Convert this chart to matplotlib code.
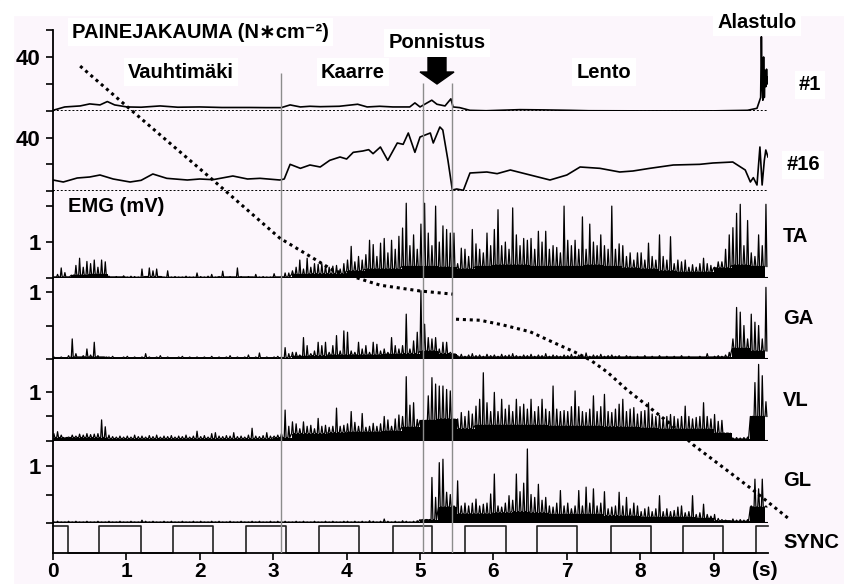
import numpy as np
import matplotlib
matplotlib.use("Agg")
import matplotlib.pyplot as plt
from matplotlib.patches import Polygon, Rectangle
from matplotlib.transforms import IdentityTransform

plt.rcParams['font.family'] = ['Liberation Sans', 'DejaVu Sans']
plt.rcParams['font.weight'] = 'bold'

W, H = 844, 584
BG = '#fcf6fc'
T_END = 9.74

# --- pressure insole data (N/cm2) ---
p1_t = [0, 0.16, 0.37, 0.5, 0.64, 0.74, 0.84, 1.01, 1.2, 1.46,
        1.7, 2.0, 2.3, 2.68, 2.9, 3.11, 3.23, 3.37, 3.5, 3.64,
        3.9, 4.15, 4.28, 4.45, 4.63, 4.86, 4.93, 5.0, 5.16, 5.23,
        5.34, 5.42, 5.45, 5.54, 5.68, 5.9, 6.36, 6.7, 7.04, 7.3,
        8.0, 9.0, 9.46, 9.59, 9.64, 9.65, 9.66, 9.67, 9.68, 9.69,
        9.70, 9.71, 9.72, 9.73, 9.74]
p1_v = [0.5, 3, 3.75, 5.25, 4.5, 7, 4.5, 3, 2.8, 3.75,
        2.8, 3, 2.6, 2.6, 2.5, 2.5, 4.5, 3, 3.5, 3.2,
        3.5, 5, 3, 3.5, 3, 3, 6, 3, 8, 5,
        3.75, 9, 3, 2.5, 0.5, 0.2, 1, 0.8, 0.5, 0.2,
        0.1, 0.1, 0.5, 2, 10, 55, 20, 8, 40, 10,
        30, 18, 31, 20, 25]

p16_t = [0, 0.14, 0.33, 0.5, 0.64, 0.82, 1.05, 1.2, 1.36, 1.55,
         1.83, 2.0, 2.18, 2.45, 2.65, 2.82, 3.09, 3.15, 3.23, 3.37,
         3.5, 3.64, 3.77, 3.91, 4.0, 4.09, 4.22, 4.3, 4.36, 4.46,
         4.56, 4.69, 4.77, 4.84, 4.93, 5.0, 5.14, 5.18, 5.27, 5.31,
         5.38, 5.44, 5.5, 5.59, 5.68, 5.91, 6.05, 6.23, 6.5, 6.77,
         7.0, 7.18, 7.45, 7.72, 7.9, 8.13, 8.45, 8.81, 8.99, 9.26,
         9.43, 9.5, 9.54, 9.59, 9.63, 9.66, 9.69, 9.71, 9.74]
p16_v = [8.25, 6.75, 9.75, 10.5, 12, 9, 6.75, 8, 12.75, 9.5,
         8.25, 9, 8.5, 11.25, 9, 9.5, 8.25, 9, 20, 17,
         19.5, 18, 23, 25.5, 24, 29, 30, 31, 28, 33,
         23, 36, 35, 43.5, 29, 40.5, 43.5, 36, 48, 45.75,
         23, 0.75, 1.5, 0.5, 13.5, 14.25, 13, 15.75, 12, 8.25,
         12, 18, 17, 14.25, 15, 17, 19.5, 20, 21, 21.75,
         15.75, 6.75, 10, 4.5, 33, 4.5, 23, 30.75, 25.5]

# --- EMG (mV): spike peaks every 0.05 s, activity floor every 0.25 s ---
EMG_DT = 0.05
ta_pk = [0.03, 0.10, 0.28, 0.15, 0.03, 0.05, 0.35, 0.55, 0.30, 0.46, 0.40, 0.50, 0.30, 0.50, 0.45, 0.05, 0.03, 0.04, 0.03, 0.06,
         0.03, 0.05, 0.04, 0.03, 0.25, 0.04, 0.28, 0.20, 0.25, 0.04, 0.03, 0.20, 0.03, 0.04, 0.03, 0.03, 0.05, 0.03, 0.03, 0.14,
         0.04, 0.03, 0.05, 0.10, 0.03, 0.04, 0.19, 0.03, 0.04, 0.03, 0.28, 0.04, 0.03, 0.04, 0.03, 0.10, 0.03, 0.04, 0.03, 0.03,
         0.12, 0.03, 0.05, 0.14, 0.14, 0.20, 0.30, 0.50, 0.25, 0.55, 0.30, 0.40, 0.38, 0.40, 0.35, 0.30, 0.33, 0.35, 0.25, 0.40,
         0.50, 0.88, 0.45, 0.60, 0.50, 0.65, 1.05, 0.93, 0.60, 0.97, 1.10, 0.70, 1.05, 0.80, 1.16, 1.39, 2.08, 0.90, 1.20, 0.80,
         1.50, 2.08, 1.25, 0.90, 2.00, 1.00, 1.45, 1.35, 1.25, 1.25, 0.40, 0.83, 0.80, 0.60, 1.35, 0.95, 0.80, 0.70, 1.25, 0.90,
         1.35, 1.90, 0.90, 1.00, 0.80, 1.95, 1.20, 0.90, 1.10, 1.05, 1.10, 0.80, 1.30, 1.00, 1.30, 0.80, 0.90, 0.85, 0.70, 2.00,
         1.05, 0.90, 1.05, 0.80, 1.70, 0.80, 1.50, 1.00, 0.90, 1.20, 0.90, 0.80, 2.00, 0.80, 0.95, 0.90, 0.60, 0.70, 0.50, 0.70,
         0.70, 0.50, 0.97, 0.60, 0.50, 1.20, 0.60, 0.50, 1.15, 0.40, 0.50, 0.45, 0.50, 0.30, 0.37, 0.30, 0.40, 0.55, 0.40, 0.35,
         0.30, 0.45, 0.45, 0.80, 1.20, 1.40, 1.80, 2.05, 0.90, 1.60, 0.70, 0.60, 1.20, 0.90, 2.05]
ta_fl = [0.03, 0.08, 0.10, 0.03, 0.02, 0.04, 0.02, 0.02, 0.02, 0.03, 0.03, 0.02, 0.03,
         0.10, 0.12, 0.12, 0.20, 0.25, 0.25, 0.32, 0.32, 0.30, 0.25, 0.32, 0.36, 0.36,
         0.32, 0.32, 0.32, 0.36, 0.32, 0.28, 0.25, 0.20, 0.16, 0.16, 0.28, 0.36, 0.32]

ga_pk = [0.03, 0.02, 0.03, 0.02, 0.05, 0.30, 0.08, 0.03, 0.05, 0.15, 0.06, 0.25, 0.05, 0.03, 0.02, 0.03, 0.04, 0.02, 0.02, 0.03,
         0.04, 0.02, 0.03, 0.02, 0.03, 0.08, 0.03, 0.02, 0.03, 0.05, 0.02, 0.03, 0.02, 0.02, 0.03, 0.04, 0.02, 0.03, 0.02, 0.03,
         0.02, 0.03, 0.02, 0.04, 0.02, 0.03, 0.02, 0.03, 0.05, 0.02, 0.03, 0.02, 0.03, 0.06, 0.02, 0.03, 0.09, 0.02, 0.03, 0.02,
         0.03, 0.04, 0.03, 0.17, 0.08, 0.10, 0.10, 0.06, 0.32, 0.20, 0.08, 0.12, 0.25, 0.20, 0.25, 0.10, 0.20, 0.35, 0.12, 0.42,
         0.40, 0.12, 0.10, 0.25, 0.15, 0.20, 0.10, 0.25, 0.22, 0.12, 0.15, 0.10, 0.32, 0.20, 0.15, 0.20, 0.67, 0.15, 0.27, 0.40,
         1.02, 0.52, 0.32, 0.30, 0.32, 0.15, 0.25, 0.25, 0.10, 0.04, 0.05, 0.07, 0.04, 0.06, 0.08, 0.05, 0.06, 0.04, 0.07, 0.05,
         0.06, 0.04, 0.07, 0.05, 0.06, 0.08, 0.05, 0.04, 0.06, 0.05, 0.07, 0.04, 0.06, 0.05, 0.08, 0.04, 0.06, 0.05, 0.04, 0.06,
         0.05, 0.07, 0.04, 0.06, 0.05, 0.09, 0.04, 0.06, 0.05, 0.07, 0.04, 0.05, 0.06, 0.04, 0.05, 0.03, 0.05, 0.04, 0.03, 0.04,
         0.03, 0.05, 0.03, 0.04, 0.03, 0.05, 0.03, 0.04, 0.03, 0.04, 0.03, 0.05, 0.03, 0.04, 0.03, 0.03, 0.04, 0.03, 0.08, 0.03,
         0.04, 0.05, 0.04, 0.06, 0.10, 0.30, 0.77, 0.70, 0.50, 0.30, 0.67, 0.55, 0.50, 0.30, 1.07]
ga_fl = [0.02, 0.03, 0.03, 0.02, 0.02, 0.02, 0.02, 0.02, 0.02, 0.02, 0.02, 0.02, 0.02,
         0.04, 0.05, 0.06, 0.06, 0.06, 0.07, 0.08, 0.12, 0.08, 0.03, 0.03, 0.03, 0.03,
         0.03, 0.03, 0.03, 0.03, 0.03, 0.03, 0.03, 0.03, 0.03, 0.03, 0.03, 0.16, 0.12]

vl_pk = [0.15, 0.19, 0.12, 0.03, 0.08, 0.12, 0.10, 0.14, 0.12, 0.15, 0.13, 0.14, 0.15, 0.43, 0.29, 0.12, 0.09, 0.08, 0.10, 0.08,
         0.10, 0.08, 0.12, 0.09, 0.10, 0.08, 0.11, 0.09, 0.12, 0.08, 0.10, 0.09, 0.11, 0.08, 0.10, 0.09, 0.12, 0.08, 0.10, 0.20,
         0.09, 0.11, 0.08, 0.15, 0.17, 0.10, 0.09, 0.11, 0.10, 0.17, 0.09, 0.10, 0.08, 0.12, 0.26, 0.10, 0.09, 0.11, 0.17, 0.10,
         0.10, 0.12, 0.15, 0.63, 0.30, 0.39, 0.35, 0.25, 0.39, 0.30, 0.32, 0.25, 0.46, 0.30, 0.32, 0.28, 0.30, 0.67, 0.30, 0.32,
         0.35, 0.60, 0.38, 0.30, 0.56, 0.28, 0.30, 0.36, 0.30, 0.35, 0.50, 0.43, 0.30, 0.45, 0.53, 0.50, 1.31, 0.73, 0.78, 0.44,
         0.35, 0.30, 0.92, 1.29, 1.16, 1.12, 1.12, 1.05, 1.02, 0.10, 0.45, 0.58, 0.50, 0.61, 0.55, 0.71, 0.85, 1.39, 0.78, 0.60,
         0.99, 0.60, 0.85, 0.65, 0.73, 0.60, 0.85, 0.70, 0.75, 0.65, 0.85, 0.60, 0.70, 0.85, 0.65, 0.60, 1.12, 0.65, 0.60, 0.62,
         0.60, 0.70, 1.02, 0.70, 0.60, 0.58, 0.65, 0.92, 0.60, 0.70, 0.95, 0.60, 0.58, 0.65, 0.75, 0.85, 0.60, 0.65, 0.68, 0.55,
         0.60, 0.62, 0.78, 0.55, 0.50, 0.52, 0.48, 0.50, 0.54, 0.50, 0.45, 0.50, 0.71, 0.50, 0.45, 0.48, 0.50, 0.78, 0.50, 0.45,
         0.54, 0.40, 0.42, 0.10, 0.07, 0.06, 0.07, 0.06, 0.07, 0.08, 0.30, 1.19, 1.56, 1.33, 0.80]
vl_fl = [0.07, 0.07, 0.07, 0.05, 0.05, 0.05, 0.05, 0.05, 0.05, 0.05, 0.05, 0.05, 0.07,
         0.15, 0.15, 0.17, 0.18, 0.18, 0.20, 0.28, 0.42, 0.45, 0.25, 0.32, 0.32, 0.32,
         0.32, 0.30, 0.30, 0.30, 0.29, 0.28, 0.26, 0.24, 0.24, 0.24, 0.16, 0.04, 0.50]

gl_pk = [0.02, 0.03, 0.02, 0.02, 0.03, 0.02, 0.03, 0.02, 0.02, 0.03, 0.02, 0.02, 0.03, 0.02, 0.02, 0.03, 0.02, 0.02, 0.03, 0.02,
         0.02, 0.03, 0.02, 0.02, 0.05, 0.03, 0.02, 0.03, 0.02, 0.02, 0.03, 0.02, 0.03, 0.02, 0.02, 0.03, 0.02, 0.02, 0.03, 0.02,
         0.03, 0.02, 0.02, 0.03, 0.02, 0.03, 0.02, 0.02, 0.03, 0.02, 0.02, 0.03, 0.02, 0.02, 0.03, 0.02, 0.03, 0.02, 0.02, 0.03,
         0.02, 0.03, 0.02, 0.03, 0.02, 0.02, 0.03, 0.02, 0.03, 0.02, 0.02, 0.03, 0.02, 0.02, 0.03, 0.02, 0.03, 0.02, 0.02, 0.03,
         0.03, 0.02, 0.03, 0.02, 0.03, 0.02, 0.04, 0.03, 0.02, 0.03, 0.07, 0.03, 0.02, 0.03, 0.02, 0.04, 0.03, 0.02, 0.03, 0.04,
         0.03, 0.04, 0.05, 0.80, 0.45, 1.06, 1.12, 0.54, 0.50, 0.30, 0.74, 0.30, 0.35, 0.30, 0.35, 0.42, 0.30, 0.33, 0.35, 0.51,
         0.86, 0.30, 0.28, 0.35, 0.48, 0.40, 0.86, 0.55, 0.70, 1.30, 0.50, 0.45, 0.68, 0.40, 0.45, 0.30, 0.28, 0.35, 0.57, 0.30,
         0.35, 0.25, 0.30, 0.57, 0.30, 0.63, 0.35, 0.60, 0.30, 0.35, 0.55, 0.25, 0.28, 0.30, 0.54, 0.30, 0.45, 0.25, 0.35, 0.30,
         0.20, 0.25, 0.28, 0.20, 0.25, 0.48, 0.20, 0.25, 0.20, 0.22, 0.28, 0.30, 0.18, 0.20, 0.48, 0.15, 0.18, 0.33, 0.15, 0.12,
         0.15, 0.08, 0.06, 0.05, 0.04, 0.07, 0.05, 0.06, 0.05, 0.06, 0.30, 0.77, 0.60, 0.77, 0.30]
gl_fl = [0.015, 0.015, 0.015, 0.015, 0.015, 0.015, 0.015, 0.015, 0.015, 0.015,
         0.015, 0.015, 0.015, 0.015, 0.015, 0.015, 0.015, 0.015, 0.015, 0.015,
         0.06, 0.28, 0.16, 0.16, 0.18, 0.20, 0.18, 0.15, 0.15, 0.15,
         0.13, 0.12, 0.10, 0.10, 0.10, 0.08, 0.04, 0.03, 0.28]

# SYNC square wave: edge times (s), starts high
sync_edges = [0.2, 0.63, 1.2, 1.63, 2.18, 2.63, 3.17, 3.63, 4.17, 4.63,
              5.16, 5.61, 6.17, 6.6, 7.14, 7.6, 8.15, 8.58, 9.13, 9.58]

# phase borders (s)
phase_t = [3.1, 5.04, 5.44]

# dotted jump-trajectory overlay (s, relative height 0..100)
traj1_t = [0.37, 1.08, 2.18, 3.09, 3.54, 3.81, 4.32, 4.46, 5.0, 5.44]
traj1_h = [93.1, 84.5, 71.3, 60.2, 56.4, 54.1, 51.8, 51.2, 50.1, 49.5]
traj2_t = [5.49, 5.82, 6.13, 6.50, 6.81, 7.11, 7.32, 7.55, 7.82, 8.41, 8.72, 9.54, 9.77, 10.01]
traj2_h = [44.7, 44.5, 43.6, 42.3, 40.3, 38.4, 36.9, 34.6, 31.2, 24.7, 20.7, 12.0, 9.4, 6.7]

# ---------------- figure ----------------
fig = plt.figure(figsize=(W / 100, H / 100), dpi=100, facecolor=BG)
fig.patches.append(Rectangle((0, 1 - 15 / H), 1, 15 / H, transform=fig.transFigure,
                             color='white', zorder=0))
fig.patches.append(Rectangle((0, 0), 13 / W, 1, transform=fig.transFigure,
                             color='white', zorder=0))

X0, X1 = 53, 768


def add_panel(top, bot):
    ax = fig.add_axes([X0 / W, 1 - bot / H, (X1 - X0) / W, (bot - top) / H])
    ax.set_facecolor('none')
    ax.set_xlim(0, T_END)
    for s in ['top', 'right', 'bottom']:
        ax.spines[s].set_visible(False)
    ax.spines['left'].set_linewidth(1.3)
    ax.tick_params(axis='y', direction='out', length=5, width=1.2, labelsize=16, pad=4)
    ax.tick_params(axis='x', bottom=False, labelbottom=False)
    return ax


def draw_emg(ax, pk, fl):
    pk = np.asarray(pk)
    t = np.arange(len(pk)) * EMG_DT
    fl = np.repeat(fl, 5)[:len(pk)]
    xs = np.column_stack([t, t + 0.012, t + 0.025]).ravel()
    ys = np.column_stack([fl, pk, fl]).ravel()
    ax.fill_between(t, 0, fl, step='post', color='black', lw=0)
    ax.plot(xs, ys, color='black', lw=0.9)
    ax.axhline(0, color='black', lw=1.5)


# pressure #1
ax = add_panel(30, 111)
ax.set_ylim(0, 60)
ax.set_yticks([0, 20, 40, 60], ['', '', '40', ''])
ax.axhline(0, color='black', lw=1.4, ls=(0, (1, 1)))
ax.plot(p1_t, p1_v, color='black', lw=1.2)

# pressure #16
ax = add_panel(111, 191)
ax.set_ylim(0, 60)
ax.set_yticks([0, 20, 40], ['', '', '40'])
ax.axhline(0, color='black', lw=1.4, ls=(0, (1, 1)))
ax.plot(p16_t, p16_v, color='black', lw=1.2)

# EMG panels
emg = [(191, 278, 2.42, [0, 1, 2], ['', '1', ''], ta_pk, ta_fl),
       (278, 359, 1.21, [0, 0.5, 1], ['', '', '1'], ga_pk, ga_fl),
       (359, 441, 1.67, [0, 0.5, 1], ['', '', '1'], vl_pk, vl_fl),
       (441, 523, 1.44, [0, 0.5, 1], ['', '', '1'], gl_pk, gl_fl)]
for top, bot, ymax, ticks, labs, pk, fl in emg:
    ax = add_panel(top, bot)
    ax.set_ylim(0, ymax)
    ax.set_yticks(ticks, labs)
    draw_emg(ax, pk, fl)

# SYNC
ax = add_panel(523, 553)
ax.set_ylim(0, 30 / 27)
ax.set_yticks([])
ax.spines['bottom'].set_visible(True)
ax.spines['bottom'].set_linewidth(1.3)
st = [0] + sync_edges + [T_END]
lv = [1 - (i % 2) for i in range(len(st))]
lv[-1] = lv[-2]
ax.step(st, lv, where='post', color='#222222', lw=1.2, clip_on=False)
ax.set_xticks(range(10))
ax.tick_params(axis='x', bottom=True, labelbottom=True, direction='out',
               length=5, width=1.2, labelsize=15, pad=1.5)

# overlay: phase lines and trajectory
ov = fig.add_axes([X0 / W, 1 - 553 / H, (X1 - X0) / W, 523 / H], zorder=5)
ov.set_xlim(0, T_END)
ov.set_ylim(0, 100)
ov.axis('off')
ov.vlines(phase_t, 0, [91.8, 89.9, 89.9], colors='#8c8c8c', lw=1.0)
for tt, hh in [(traj1_t, traj1_h), (traj2_t, traj2_h)]:
    ov.plot(tt, hh, color='black', lw=2.2, ls=(0, (1, 1.25)),
            dash_capstyle='butt', clip_on=False)

# Ponnistus arrow (figure pixels)
cx = 437
arrow = [(cx - 9, 55), (cx + 9, 55), (cx + 9, 72), (cx + 17, 72), (cx, 84),
         (cx - 17, 72), (cx - 9, 72)]
fig.patches.append(Polygon([(x, H - y) for x, y in arrow], closed=True,
                           transform=IdentityTransform(), color='black', zorder=6))


def label(x, y, s, ha='center', box=True, size=14.5):
    kw = dict(facecolor='white', edgecolor='none', pad=3) if box else None
    fig.text(x / W, 1 - y / H, s, ha=ha, va='center', fontsize=size,
             fontweight='bold', bbox=kw, zorder=7)


label(72, 32, 'PAINEJAKAUMA (N\u2217cm\u207b\u00b2)', ha='left')
label(181, 72, 'Vauhtimäki')
label(353, 72, 'Kaarre')
label(437, 43, 'Ponnistus')
label(604, 72, 'Lento')
label(757, 22, 'Alastulo')
label(810, 85, '#1')
label(803, 165, '#16')
label(68, 207, 'EMG (mV)', ha='left', box=False)
for y, s in [(237, 'TA'), (318, 'GA'), (401, 'VL'), (480, 'GL')]:
    label(783, y, s, ha='left', box=False)
label(783, 542, 'SYNC', ha='left', box=False)
label(765, 571, '(s)', box=False, size=15)

fig.savefig('out.png', dpi=100, facecolor=BG)
